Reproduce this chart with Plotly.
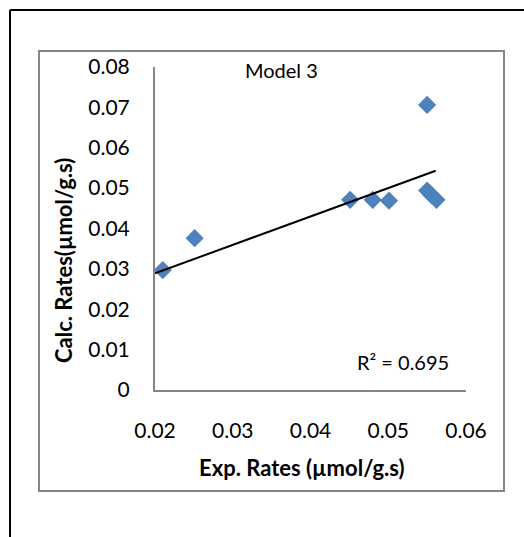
import plotly.graph_objects as go

# ---- data ----
exp_rates = [0.0210, 0.0251, 0.0451, 0.0480, 0.0501, 0.0550, 0.0550, 0.0556, 0.0562]
calc_rates = [0.0297, 0.0376, 0.0471, 0.0471, 0.0469, 0.0706, 0.0494, 0.0482, 0.0471]
trend_x = [0.0200, 0.0561]
trend_y = [0.0289, 0.0543]
r2_label = "R² = 0.695"
chart_title = "Model 3"
x_title = "Exp. Rates (µmol/g.s)"
y_title = "Calc. Rates(µmol/g.s)"
x_ticks = [0.02, 0.03, 0.04, 0.05, 0.06]
y_ticks = [0, 0.01, 0.02, 0.03, 0.04, 0.05, 0.06, 0.07, 0.08]
x_tick_text = ["0.02", "0.03", "0.04", "0.05", "0.06"]
y_tick_text = ["0", "0.01", "0.02", "0.03", "0.04", "0.05", "0.06", "0.07", "0.08"]

# ---- layout geometry (pixels) ----
W, H = 524, 537
PL, PR, PT, PB = 155, 466, 67, 390  # plot area edges


def px(x):
    return (x - PL) / (PR - PL)


def py(y):
    return (PB - y) / (PB - PT)


FONT = "Lato, 'Open Sans', sans-serif"
GRAY = "#868686"
BLUE = "#4F81BD"

fig = go.Figure()
fig.add_trace(go.Scatter(
    x=exp_rates, y=calc_rates, mode="markers",
    marker=dict(symbol="diamond", size=14, color=BLUE, line=dict(width=0)),
    showlegend=False, cliponaxis=False,
))
fig.add_trace(go.Scatter(
    x=trend_x, y=trend_y, mode="lines",
    line=dict(color="black", width=2), showlegend=False,
))

fig.update_layout(
    width=W, height=H, autosize=False,
    margin=dict(l=PL, r=W - PR, t=PT, b=H - PB, pad=0),
    paper_bgcolor="white", plot_bgcolor="white",
    font=dict(family=FONT, size=21, color="black"),
    showlegend=False,
)
fig.update_xaxes(
    range=[0.02, 0.06], tickvals=x_ticks, ticktext=x_tick_text,
    showgrid=False, zeroline=False, showline=True, linecolor=GRAY, linewidth=2,
    ticks="", ticklabelstandoff=21, tickfont=dict(size=21),
)
fig.update_yaxes(
    range=[0, 0.08], tickvals=y_ticks, ticktext=y_tick_text,
    showgrid=False, zeroline=False, showline=True, linecolor=GRAY, linewidth=2,
    ticks="", ticklabelstandoff=19, tickfont=dict(size=21),
)

shapes = [
    # chart area border
    dict(type="rect", xref="paper", yref="paper",
         x0=px(39), x1=px(504), y0=py(491), y1=py(51),
         line=dict(color=GRAY, width=2), fillcolor="rgba(0,0,0,0)", layer="below"),
    # outer black frame (top and left edges)
    dict(type="line", xref="paper", yref="paper",
         x0=px(10), x1=px(530), y0=py(10), y1=py(10),
         line=dict(color="black", width=2)),
    dict(type="line", xref="paper", yref="paper",
         x0=px(10), x1=px(10), y0=py(10), y1=py(545),
         line=dict(color="black", width=2)),
]
fig.update_layout(shapes=shapes)

annotations = [
    dict(text=chart_title, xref="paper", yref="paper", x=px(281), y=py(70),
         showarrow=False, font=dict(size=20), xanchor="center", yanchor="middle"),
    dict(text=r2_label, xref="paper", yref="paper", x=px(451), y=py(362),
         showarrow=False, font=dict(size=20), xanchor="right", yanchor="middle"),
    dict(text="<b>" + x_title + "</b>", xref="paper", yref="paper", x=px(302), y=py(467),
         showarrow=False, font=dict(size=22), xanchor="center", yanchor="middle"),
    dict(text="<b>" + y_title + "</b>", xref="paper", yref="paper", x=px(63), y=py(261),
         showarrow=False, font=dict(size=22), textangle=-90,
         xanchor="center", yanchor="middle"),
]
fig.update_layout(annotations=annotations)

fig.write_html("out.html")
